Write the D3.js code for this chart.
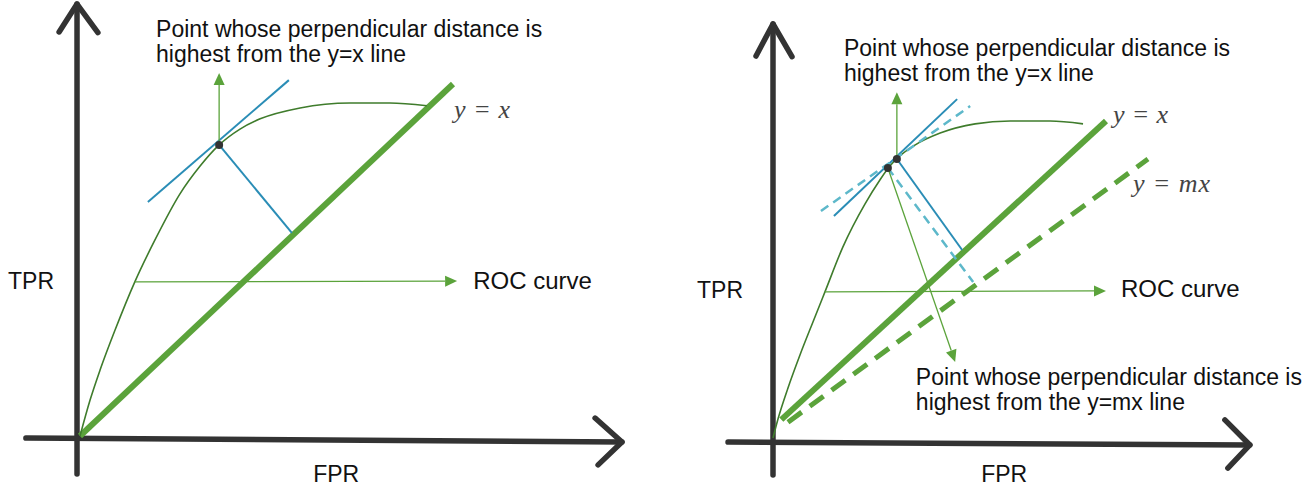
<!DOCTYPE html>
<html>
  <head>
    <meta charset="utf-8" />
    <script src="https://d3js.org/d3.v7.min.js"></script>
    <title>ROC curve - farthest point from the diagonal</title>
    <style>
      body { margin: 0; background: #fff; }
      .label { font-family: "Liberation Sans", Arial, sans-serif; font-size: 23px; fill: #111; }
      .roc-label { font-size: 24px; }
      .math { font-family: "Liberation Serif", "Times New Roman", serif; font-style: italic; font-size: 26px; fill: #444; }
      .axis { fill: none; stroke: #333; stroke-width: 5.5px; stroke-linecap: round; stroke-linejoin: round; }
      .roc { fill: none; stroke: #3f7c2c; stroke-width: 1.6px; }
      .diag { stroke: #5ba33b; stroke-width: 6px; }
      .diag-m { stroke: #5ba33b; stroke-width: 5px; stroke-dasharray: 17 10; }
      .tangent { stroke: #2a8db6; stroke-width: 2px; }
      .tangent-m { stroke: #5db8ca; stroke-width: 2.5px; stroke-dasharray: 9 6; }
      .pointer { stroke: #5ba33b; stroke-width: 1.3px; }
    </style>
  </head>
  <body>

    <svg id="chart" width="1314" height="490"></svg>

    <script>

      // ---- data (FPR, TPR in unit space) ----

      // left panel: ROC curve
      var rocLeftFpr = [0, 0.027, 0.054, 0.094, 0.147, 0.201, 0.268, 0.322, 0.373, 0.429, 0.483, 0.590, 0.724, 0.831, 0.930];
      var rocLeftTpr = [0, 0.102, 0.188, 0.301, 0.438, 0.557, 0.688, 0.767, 0.827, 0.872, 0.901, 0.932, 0.946, 0.946, 0.938];
      var bestLeft = [0.373, 0.827];
      var tangentLeft = [[0.182, 0.665], [0.560, 1.011]];
      var footLeft = [0.568, 0.577];
      var diagLeft = [[0, 0], [1, 1]];
      var upTipLeft = [0.373, 1.031];
      var rocArrowLeft = [[0.147, 0.438], [1.011, 0.440]];

      // right panel: ROC curve
      var rocRightFpr = [0, 0.015, 0.045, 0.081, 0.120, 0.156, 0.210, 0.276, 0.321, 0.351, 0.381, 0.426, 0.502, 0.607, 0.712, 0.832, 0.931];
      var rocRightTpr = [0, 0.060, 0.158, 0.262, 0.366, 0.461, 0.603, 0.738, 0.814, 0.858, 0.890, 0.924, 0.962, 0.991, 1.000, 1.000, 0.991];
      var bestRightX = [0.372, 0.880];   // farthest from y = x
      var bestRightM = [0.345, 0.852];   // farthest from y = mx
      var tangentRightX = [[0.183, 0.700], [0.553, 1.069]];
      var tangentRightM = [[0.144, 0.716], [0.592, 1.047]];
      var footRightX = [0.568, 0.593];
      var footRightM = [0.601, 0.492];
      var diagRight = [[0.025, 0.058], [1, 1]];
      var diagRightM = [[0.045, 0.050], [1.126, 0.880]];
      var upTipRight = [0.372, 1.091];
      var downTipRight = [0.547, 0.240];
      var rocArrowRight = [[0.156, 0.461], [1.0, 0.464]];

      // hand drawn axes (unit space)
      var axesLeft = {
        yLine: [[-0.008, -0.108], [-0.008, 1.227]],
        yHead: [[-0.056, 1.148], [-0.008, 1.227], [0.048, 1.146]],
        xLine: [[-0.145, -0.006], [1.453, -0.017]],
        xHead: [[1.381, 0.051], [1.453, -0.017], [1.389, -0.082]]
      };
      var axesRight = {
        yLine: [[0, -0.117], [0, 1.306]],
        yHead: [[-0.051, 1.205], [0, 1.306], [0.057, 1.203]],
        xLine: [[-0.135, -0.013], [1.432, -0.022]],
        xHead: [[1.357, 0.057], [1.432, -0.022], [1.366, -0.095]]
      };

      var svg = d3.select("#chart");

      function arrow(g, sx, sy, from, to, cls) {
        var x1 = sx(from[0]), y1 = sy(from[1]), x2 = sx(to[0]), y2 = sy(to[1]);
        var a = Math.atan2(y2 - y1, x2 - x1), len = 12, w = 5.5;
        var bx = x2 - len * Math.cos(a), by = y2 - len * Math.sin(a);
        g.append("line").attr("class", cls)
          .attr("x1", x1).attr("y1", y1).attr("x2", bx).attr("y2", by);
        g.append("path")
          .attr("fill", "#5ba33b")
          .attr("d", "M" + x2 + "," + y2 +
            "L" + (bx + w * Math.sin(a)) + "," + (by - w * Math.cos(a)) +
            "L" + (bx - w * Math.sin(a)) + "," + (by + w * Math.cos(a)) + "Z");
      }

      function seg(g, sx, sy, p, q, cls) {
        g.append("line").attr("class", cls)
          .attr("x1", sx(p[0])).attr("y1", sy(p[1]))
          .attr("x2", sx(q[0])).attr("y2", sy(q[1]));
      }

      function drawAxes(g, sx, sy, ax) {
        var line = d3.line().x(function(d) { return sx(d[0]); }).y(function(d) { return sy(d[1]); });
        g.append("path").attr("class", "axis").attr("d", line(ax.yLine));
        g.append("path").attr("class", "axis").attr("d", line(ax.yHead));
        g.append("path").attr("class", "axis").attr("d", line(ax.xLine));
        g.append("path").attr("class", "axis").attr("d", line(ax.xHead));
      }

      function drawRoc(g, sx, sy, fpr, tpr) {
        var pts = fpr.map(function(f, i) { return [f, tpr[i]]; });
        var line = d3.line()
          .x(function(d) { return sx(d[0]); })
          .y(function(d) { return sy(d[1]); })
          .curve(d3.curveMonotoneX);
        g.append("path").attr("class", "roc").attr("d", line(pts));
      }

      function label(g, sx, sy, pos, txt, cls, width) {
        var t = g.append("text").attr("class", cls || "label")
          .attr("x", sx(pos[0])).attr("y", sy(pos[1])).text(txt);
        if (width) t.attr("textLength", width).attr("lengthAdjust", "spacing");
        return t;
      }

      // ---------------- left panel ----------------
      var xL = d3.scaleLinear().domain([0, 1]).range([80, 453]);
      var yL = d3.scaleLinear().domain([0, 1]).range([436, 84]);
      var gL = svg.append("g");

      drawAxes(gL, xL, yL, axesLeft);
      seg(gL, xL, yL, diagLeft[0], diagLeft[1], "diag");
      drawRoc(gL, xL, yL, rocLeftFpr, rocLeftTpr);
      arrow(gL, xL, yL, rocArrowLeft[0], rocArrowLeft[1], "pointer");
      seg(gL, xL, yL, tangentLeft[0], tangentLeft[1], "tangent");
      seg(gL, xL, yL, bestLeft, footLeft, "tangent");
      arrow(gL, xL, yL, bestLeft, upTipLeft, "pointer");
      gL.append("circle").attr("cx", xL(bestLeft[0])).attr("cy", yL(bestLeft[1]))
        .attr("r", 4).attr("fill", "#333");

      label(gL, xL, yL, [0.204, 1.134], "Point whose perpendicular distance is");
      label(gL, xL, yL, [0.204, 1.063], "highest from the y=x line");
      label(gL, xL, yL, [1.003, 0.903], "y = x", "math", 56);
      label(gL, xL, yL, [1.054, 0.418], "ROC curve", "label roc-label");
      label(gL, xL, yL, [-0.193, 0.418], "TPR");
      label(gL, xL, yL, [0.625, -0.131], "FPR");

      // ---------------- right panel ----------------
      var xR = d3.scaleLinear().domain([0, 1]).range([773, 1106]);
      var yR = d3.scaleLinear().domain([0, 1]).range([438, 121]);
      var gR = svg.append("g");

      drawAxes(gR, xR, yR, axesRight);
      seg(gR, xR, yR, diagRight[0], diagRight[1], "diag");
      seg(gR, xR, yR, diagRightM[0], diagRightM[1], "diag-m");
      drawRoc(gR, xR, yR, rocRightFpr, rocRightTpr);
      arrow(gR, xR, yR, rocArrowRight[0], rocArrowRight[1], "pointer");
      seg(gR, xR, yR, tangentRightX[0], tangentRightX[1], "tangent");
      seg(gR, xR, yR, tangentRightM[0], tangentRightM[1], "tangent-m");
      seg(gR, xR, yR, bestRightX, footRightX, "tangent");
      seg(gR, xR, yR, bestRightM, footRightM, "tangent-m");
      arrow(gR, xR, yR, bestRightX, upTipRight, "pointer");
      arrow(gR, xR, yR, bestRightM, downTipRight, "pointer");
      [bestRightX, bestRightM].forEach(function(p) {
        gR.append("circle").attr("cx", xR(p[0])).attr("cy", yR(p[1]))
          .attr("r", 4).attr("fill", "#333");
      });

      label(gR, xR, yR, [0.213, 1.205], "Point whose perpendicular distance is");
      label(gR, xR, yR, [0.213, 1.126], "highest from the y=x line");
      label(gR, xR, yR, [1.021, 0.994], "y = x", "math", 55);
      label(gR, xR, yR, [1.081, 0.776], "y = mx", "math", 77);
      label(gR, xR, yR, [1.045, 0.445], "ROC curve", "label roc-label");
      label(gR, xR, yR, [0.429, 0.167], "Point whose perpendicular distance is");
      label(gR, xR, yR, [0.429, 0.088], "highest from the y=mx line");
      label(gR, xR, yR, [-0.228, 0.442], "TPR");
      label(gR, xR, yR, [0.625, -0.139], "FPR");

    </script>

  </body>
</html>
